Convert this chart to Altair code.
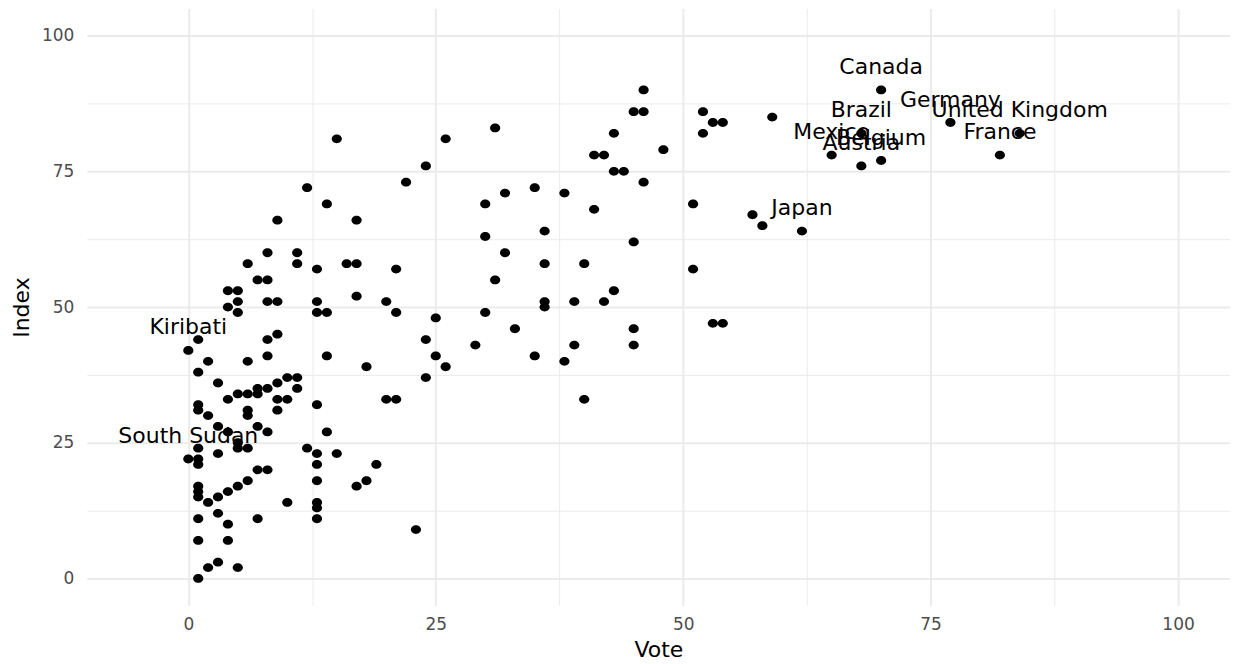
import altair as alt
import pandas as pd

# ---- data ----
vote = [
    0, 1, 8, 9, 2, 6, 8, 14, 18, 1, 3,
    4, 5, 6, 7, 7, 8, 9, 10, 11, 11, 9, 10, 9, 13,
    1, 1, 2, 6, 6,
    3, 4, 7, 8, 14,
    1, 5, 5, 6, 3, 12, 13, 15,
    0, 1, 1, 13, 19,
    7, 8, 6, 5, 4, 3, 2, 1, 1, 1,
    13, 18, 17, 10, 13, 13, 13, 1, 3, 4, 7,
    1, 4, 2, 3, 5, 1, 23,
    4, 5, 5, 8, 9, 13, 13, 14, 17, 20, 21,
    4, 5, 7, 8,
    6, 11, 13, 16, 17, 21, 8, 11,
    9, 17, 14, 12, 15,
    20, 21,
    22, 24, 26, 31,
    30, 32, 35, 38, 41,
    30, 36, 32, 31, 36, 40, 45,
    25, 30, 33, 24, 29, 25, 26, 24,
    36, 36, 39, 42, 43, 45, 45, 39, 35, 38, 40,
    46, 45, 46, 52, 53, 54, 52, 43, 48, 41, 42, 43, 44, 46,
    51, 51, 53, 54, 59, 57, 58,
    70, 77, 84, 82, 68, 65, 70, 68, 62,
]
index = [
    42, 44, 44, 45, 40, 40, 41, 41, 39, 38, 36,
    33, 34, 34, 34, 35, 35, 36, 37, 37, 35, 33, 33, 31, 32,
    32, 31, 30, 31, 30,
    28, 27, 28, 27, 27,
    24, 25, 24, 24, 23, 24, 23, 23,
    22, 22, 21, 21, 21,
    20, 20, 18, 17, 16, 15, 14, 17, 16, 15,
    18, 18, 17, 14, 14, 13, 11, 11, 12, 10, 11,
    7, 7, 2, 3, 2, 0, 9,
    50, 51, 49, 51, 51, 51, 49, 49, 52, 51, 49,
    53, 53, 55, 55,
    58, 58, 57, 58, 58, 57, 60, 60,
    66, 66, 69, 72, 81,
    33, 33,
    73, 76, 81, 83,
    69, 71, 72, 71, 68,
    63, 64, 60, 55, 58, 58, 62,
    48, 49, 46, 44, 43, 41, 39, 37,
    51, 50, 51, 51, 53, 46, 43, 43, 41, 40, 33,
    90, 86, 86, 86, 84, 84, 82, 82, 79, 78, 78, 75, 75, 73,
    69, 57, 47, 47, 85, 67, 65,
    90, 84, 82, 78, 82, 78, 77, 76, 64,
]

label_country = ["Canada", "Germany", "United Kingdom", "France", "Brazil",
                 "Mexico", "Belgium", "Austria", "Japan", "Kiribati", "South Sudan"]
label_vote = [70, 77, 84, 82, 68, 65, 70, 68, 62, 0, 0]
label_index = [90, 84, 82, 78, 82, 78, 77, 76, 64, 42, 22]

grid_values = [0, 12.5, 25, 37.5, 50, 62.5, 75, 87.5, 100]

points = pd.DataFrame({"Vote": vote, "Index": index})
labels = pd.DataFrame({"Country": label_country, "Vote": label_vote, "Index": label_index})

FONT = "DejaVu Sans"
MAJOR = "datum.value % 25 === 0"
# slightly wide ellipse, as the reference's dots are
DOT = "M-1.15,0A1.15,1,0,1,0,1.15,0A1.15,1,0,1,0,-1.15,0Z"


def make_axis(title, label_padding, title_padding):
    return alt.Axis(
        title=title,
        values=grid_values,
        labelExpr=f"{MAJOR} ? datum.label : ''",
        labelOverlap=False,
        ticks=False,
        domain=False,
        grid=True,
        gridColor="#EBEBEB",
        gridWidth={"condition": {"test": MAJOR, "value": 2}, "value": 1},
        labelFont=FONT,
        labelFontSize=17,
        labelColor="#4D4D4D",
        labelPadding=label_padding,
        titleFont=FONT,
        titleFontSize=22,
        titleFontWeight="normal",
        titleColor="black",
        titlePadding=title_padding,
    )


x_enc = alt.X("Vote:Q",
              scale=alt.Scale(domain=[-10.25, 105.25], nice=False, zero=False),
              axis=make_axis("Vote", 11, 7))
y_enc = alt.Y("Index:Q",
              scale=alt.Scale(domain=[-5, 105], nice=False, zero=False),
              axis=make_axis("Index", 13, 8))

pts = alt.Chart(points).mark_point(
    shape=DOT, size=78, filled=True, color="black", opacity=1, strokeWidth=0
).encode(x=x_enc, y=y_enc)

txt = alt.Chart(labels).mark_text(
    font=FONT, fontSize=22, color="black", dy=-23, align="center", baseline="middle"
).encode(x="Vote:Q", y="Index:Q", text="Country:N")

chart = (
    alt.layer(pts, txt)
    .properties(
        width=1145,
        height=598,
        autosize=alt.AutoSizeParams(type="none"),
        padding={"left": 79, "top": 0, "right": 0, "bottom": 56},
        background="white",
    )
    .configure_view(stroke=None)
)

chart.save("out.html", embed_options={"renderer": "svg", "actions": False})
